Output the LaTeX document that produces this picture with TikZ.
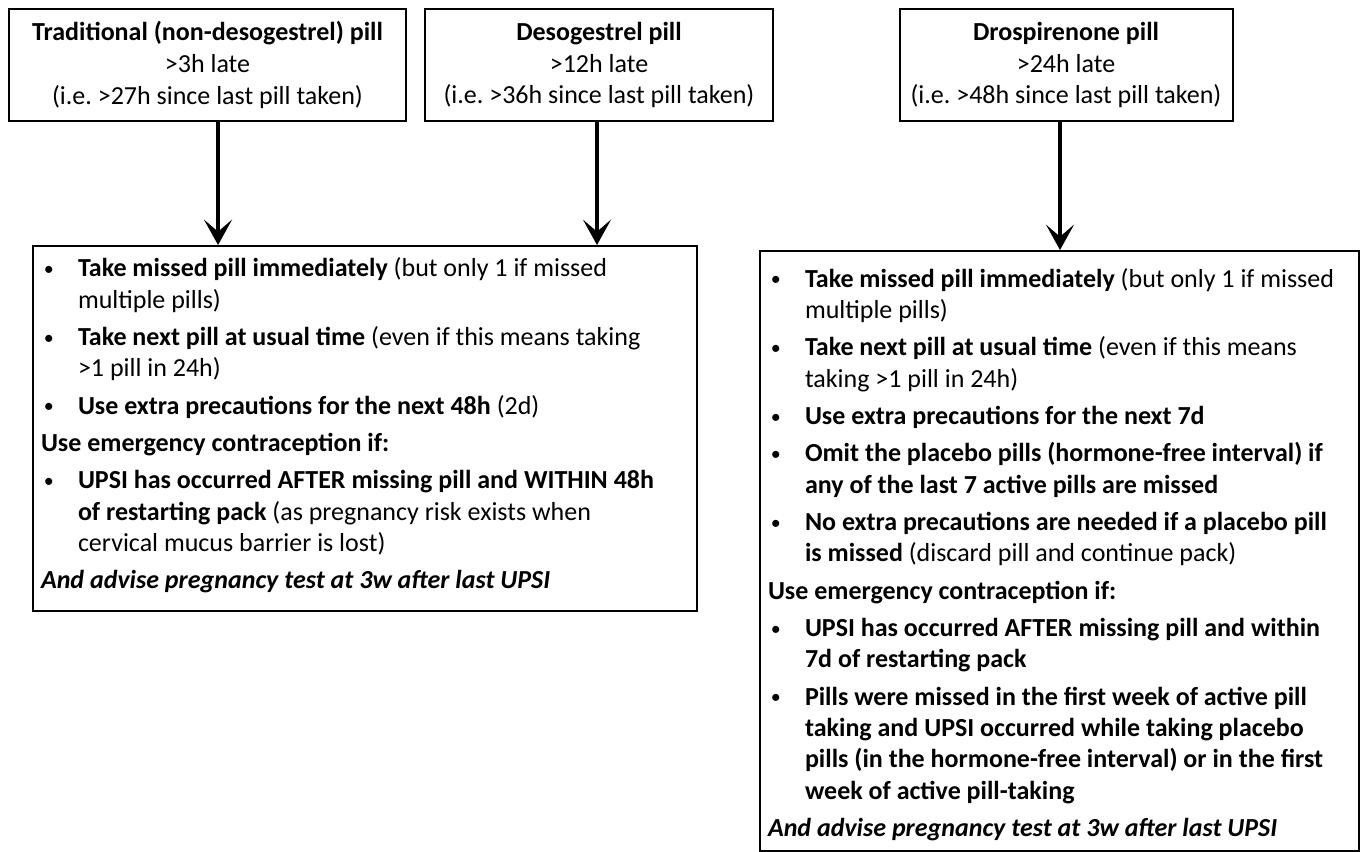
\documentclass[tikz,border=0pt]{standalone}
\usepackage{fontspec}
\setmainfont{Carlito}
\usetikzlibrary{arrows.meta}
\frenchspacing

\newcommand{\pitem}[1]{\par\hangindent=27.75pt\hangafter=1\noindent\makebox[27.75pt][l]{\hspace{2.2pt}\raisebox{1pt}{\fontsize{15pt}{15pt}\selectfont\textbullet}}\strut#1}
\newcommand{\pbody}{\fontsize{19.5pt}{23.5pt}\selectfont\raggedright\setlength{\leftskip}{6pt}\setlength{\parskip}{4.5pt}}

\begin{document}
\begin{tikzpicture}[x=0.75pt,y=-0.75pt,
    pillbox/.style={draw,line width=1.5pt,align=center,inner xsep=2pt,minimum height=84pt,
                    font=\fontsize{19.5pt}{23.8pt}\selectfont},
    panel/.style={draw,line width=1.5pt,inner sep=0pt,anchor=north west},
    flow/.style={line width=3.6pt,-{Stealth[length=19pt,width=21pt,inset=9pt]}}]
    \useasboundingbox (0,0) rectangle (1363,851);

    \node[pillbox,minimum width=297.75pt] (trad) at (207.5,65)
        {\textbf{Traditional (non-desogestrel) pill}\\ >3h late\\ (i.e. >27h since last pill taken)};
    \node[pillbox,minimum width=261pt] (deso) at (599,65)
        {\textbf{Desogestrel pill}\\ >12h late\\ (i.e. >36h since last pill taken)};
    \node[pillbox,minimum width=249.75pt] (dros) at (1066,65)
        {\textbf{Drospirenone pill}\\ >24h late\\ (i.e. >48h since last pill taken)};

    % advice for the traditional and desogestrel pills
    \node[panel] (advtrad) at (32,245) {\parbox[c][273.75pt][t]{498pt}{\pbody\vspace*{2.2pt}
        \pitem{\textbf{Take missed pill immediately} (but only 1 if missed\newline multiple pills)}
        \pitem{\textbf{Take next pill at usual time} (even if this means taking\newline >1 pill in 24h)}
        \pitem{\textbf{Use extra precautions for the next 48h} (2d)}
        \par\strut\textbf{Use emergency contraception if:}
        \pitem{\textbf{UPSI has occurred AFTER missing pill and WITHIN 48h\newline of restarting pack} (as pregnancy risk exists when\newline cervical mucus barrier is lost)}
        \par\strut\textbf{\textit{And advise pregnancy test at 3w after last UPSI}}\par}};

    % advice for the drospirenone pill
    \node[panel] (advdros) at (759,250) {\parbox[c][450pt][t]{449.25pt}{\pbody\vspace*{6.2pt}
        \pitem{\textbf{Take missed pill immediately} (but only 1 if missed\newline multiple pills)}
        \pitem{\textbf{Take next pill at usual time} (even if this means\newline taking >1 pill in 24h)}
        \pitem{\textbf{Use extra precautions for the next 7d}}
        \pitem{\textbf{Omit the placebo pills (hormone-free interval) if\newline any of the last 7 active pills are missed}}
        \pitem{\textbf{No extra precautions are needed if a placebo pill\newline is missed} (discard pill and continue pack)}
        \par\strut\textbf{Use emergency contraception if:}
        \pitem{\textbf{UPSI has occurred AFTER missing pill and within\newline 7d of restarting pack}}
        \pitem{\textbf{Pills were missed in the first week of active pill\newline taking and UPSI occurred while taking placebo\newline pills (in the hormone-free interval) or in the first\newline week of active pill-taking}}
        \par\strut\textbf{\textit{And advise pregnancy test at 3w after last UPSI}}\par}};

    \coordinate (ta) at ([xshift=7.9pt]trad.south);
    \coordinate (td) at ([xshift=-1.5pt]deso.south);
    \coordinate (tr) at ([xshift=-4.5pt]dros.south);
    \draw[flow] (ta) -- (ta |- advtrad.north);
    \draw[flow] (td) -- (td |- advtrad.north);
    \draw[flow] (tr) -- (tr |- advdros.north);
\end{tikzpicture}
\end{document}
